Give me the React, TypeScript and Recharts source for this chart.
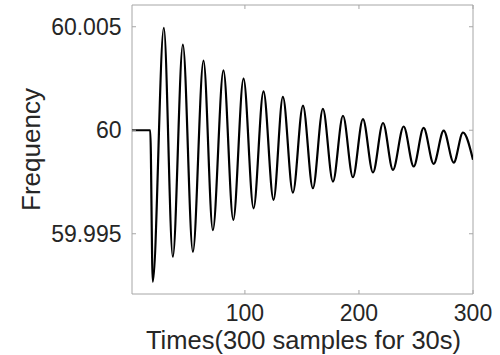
import { LineChart, Line, XAxis, YAxis, ReferenceArea, Label } from "recharts";

// sample index of each turning point (step, troughs and peaks)
const sampleIdx = [
  1, 17, 19.2, 28.9, 36.8, 45.6, 54.4, 63.7, 71.9, 81.2, 89.8, 98.8, 107.6, 116.3, 125.1,
  133.3, 142.1, 150.9, 159.6, 168.4, 177.2, 186, 194.7, 203.5, 212.3, 221.1, 229.8, 239.2,
  248, 256.7, 265.5, 274.3, 283.1, 291.2, 300,
];
const frequency = [
  60, 60, 59.99268, 60.00495, 59.99389, 60.00414, 59.99413, 60.00336, 59.99518, 60.00289,
  59.99567, 60.00249, 59.99623, 60.00188, 59.99664, 60.00161, 59.99699, 60.00119, 59.9972,
  60.00103, 59.99752, 60.0007, 59.99773, 60.00054, 59.99796, 60.00035, 59.99809, 60.00018,
  59.99825, 60.00011, 59.99838, 59.99998, 59.99844, 59.99989, 59.99857,
];
const xTicks = [100, 200, 300];
const yTicks = [59.995, 60, 60.005];
const xDomain = [1, 300];
const yDomain = [59.99209, 60.00605];

const data = sampleIdx.map((t, i) => ({ t, f: frequency[i] }));

const W = 500;
const H = 355;
const M = { top: 5, right: 27, bottom: 0, left: 0 };
const Y_AXIS_W = 132;
const X_AXIS_H = 61;
const PLOT_L = M.left + Y_AXIS_W;
const PLOT_R = W - M.right;
const PLOT_T = M.top;
const PLOT_B = H - M.bottom - X_AXIS_H;
const TICK_LEN = 4;
const TEXT = "#262626";
const FRAME = "#a6a6a6";
const FONT = "'Liberation Sans', Arial, Helvetica, sans-serif";

function YTick(props: any) {
  const { x, y, payload } = props;
  return (
    <g>
      <text x={x} y={y} dy="0.355em" textAnchor="end" fontSize={23} fill={TEXT} fontFamily={FONT}>
        {payload.value}
      </text>
      <line x1={PLOT_L} x2={PLOT_L + TICK_LEN} y1={y} y2={y} stroke={FRAME} />
      <line x1={PLOT_R - TICK_LEN} x2={PLOT_R} y1={y} y2={y} stroke={FRAME} />
    </g>
  );
}

function XTick(props: any) {
  const { x, y, payload } = props;
  return (
    <g>
      <text x={x} y={y} dy="0.71em" textAnchor="middle" fontSize={23} fill={TEXT} fontFamily={FONT}>
        {payload.value}
      </text>
      <line x1={x} x2={x} y1={PLOT_B - TICK_LEN} y2={PLOT_B} stroke={FRAME} />
      <line x1={x} x2={x} y1={PLOT_T} y2={PLOT_T + TICK_LEN} stroke={FRAME} />
    </g>
  );
}

export default function App() {
  return (
    <div style={{ position: "absolute", left: 0, top: 0, width: W, height: H, background: "#fff" }}>
      <LineChart width={W} height={H} data={data} margin={M}>
        <XAxis
          dataKey="t"
          type="number"
          domain={xDomain}
          ticks={xTicks}
          allowDataOverflow
          axisLine={false}
          tickLine={false}
          tickSize={0}
          tickMargin={11}
          height={X_AXIS_H}
          tick={<XTick />}
          interval={0}
        >
          <Label
            content={(p: any) => {
              const vb = p.viewBox;
              return (
                <text
                  x={vb.x + vb.width / 2 + 1}
                  y={vb.y + vb.height - 6}
                  textAnchor="middle"
                  fontSize={25.5}
                  fill={TEXT}
                  fontFamily={FONT}
                >
                  Times(300 samples for 30s)
                </text>
              );
            }}
          />
        </XAxis>
        <YAxis
          type="number"
          domain={yDomain}
          ticks={yTicks}
          allowDataOverflow
          axisLine={false}
          tickLine={false}
          tickSize={0}
          tickMargin={10.5}
          width={Y_AXIS_W}
          tick={<YTick />}
          interval={0}
        >
          <Label
            content={(p: any) => {
              const vb = p.viewBox;
              const cx = 40;
              const cy = vb.y + vb.height / 2;
              return (
                <text
                  transform={`translate(${cx},${cy}) rotate(-90)`}
                  textAnchor="middle"
                  fontSize={26}
                  fill={TEXT}
                  fontFamily={FONT}
                >
                  Frequency
                </text>
              );
            }}
          />
        </YAxis>
        <ReferenceArea
          x1={xDomain[0]}
          x2={xDomain[1]}
          y1={yDomain[0]}
          y2={yDomain[1]}
          fill="none"
          stroke={FRAME}
          strokeWidth={1}
          ifOverflow="visible"
        />
        <Line
          type="monotone"
          dataKey="f"
          stroke="#000"
          strokeWidth={2.2}
          dot={false}
          activeDot={false}
          isAnimationActive={false}
        />
      </LineChart>
    </div>
  );
}
